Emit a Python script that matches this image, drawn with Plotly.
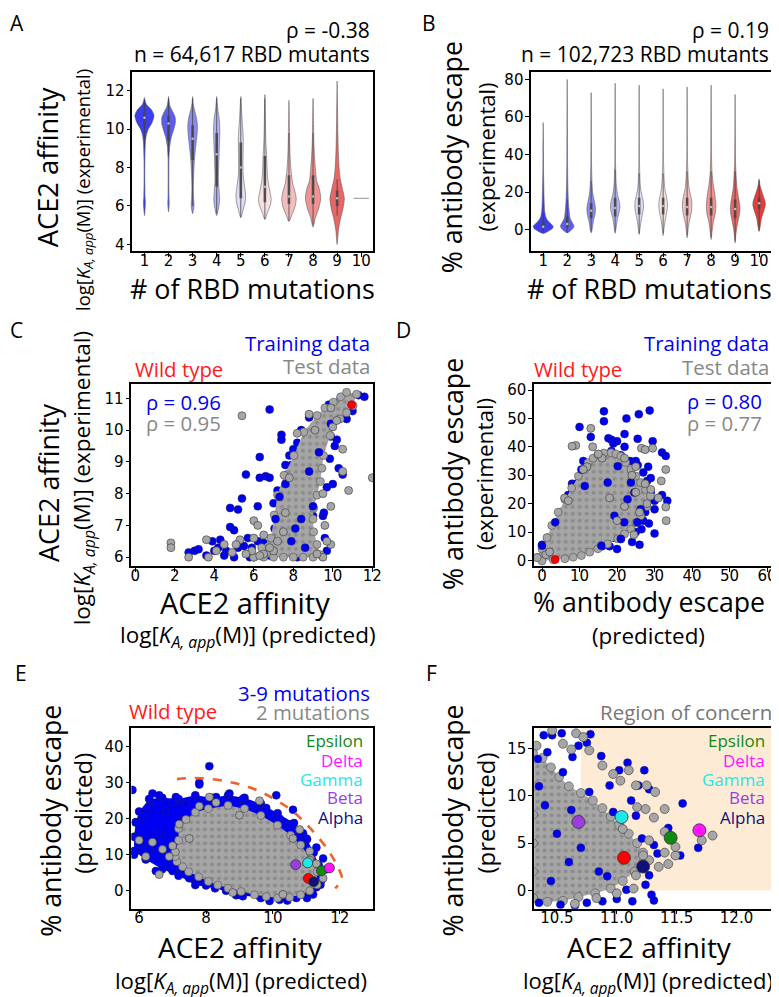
import plotly.graph_objects as go

W, H = 779, 997

# ---------------- data ----------------
mut_counts = [1, 2, 3, 4, 5, 6, 7, 8, 9, 10]
violin_colors = ["#3d3df0", "#5c5cee", "#8a8aef", "#b3b3f1", "#dcdcf6",
                 "#f6e1e1", "#f4bdbd", "#f09292", "#ea6666", "#e53d3d"]

# Panel A: ACE2 affinity violin profiles (level, half-width)
A_prof_y = [
    [5.5, 5.9, 6.2, 6.5, 7.5, 8.5, 9.3, 9.7, 10.0, 10.35, 10.7, 11.0, 11.3, 11.65],
    [5.7, 6.0, 6.2, 6.5, 7.5, 8.5, 9.1, 9.6, 10.0, 10.3, 10.6, 10.9, 11.2, 11.7],
    [5.6, 5.9, 6.1, 6.4, 7.0, 7.8, 8.5, 9.2, 9.8, 10.2, 10.6, 11.0, 11.3, 11.7],
    [5.5, 5.9, 6.3, 6.8, 7.3, 8.0, 8.7, 9.4, 10.0, 10.5, 11.0, 11.4, 11.7],
    [5.4, 5.8, 6.2, 6.6, 7.0, 7.6, 8.3, 9.0, 9.6, 10.2, 10.8, 11.3, 11.7],
    [5.3, 5.7, 6.1, 6.4, 6.8, 7.4, 8.0, 8.7, 9.4, 10.2, 11.0, 11.8],
    [5.2, 5.6, 6.0, 6.4, 6.8, 7.2, 7.8, 8.5, 9.3, 10.2, 11.0, 11.5],
    [4.9, 5.4, 5.9, 6.4, 6.9, 7.3, 7.9, 8.6, 9.4, 10.3, 11.0, 11.6],
    [4.0, 4.8, 5.4, 5.9, 6.4, 6.9, 7.4, 8.0, 8.8, 9.8, 10.8, 11.6, 12.5],
]
A_prof_w = [
    [0, 0.03, 0.04, 0.025, 0.015, 0.02, 0.04, 0.08, 0.16, 0.32, 0.40, 0.30, 0.08, 0],
    [0, 0.025, 0.03, 0.02, 0.015, 0.02, 0.05, 0.12, 0.22, 0.28, 0.28, 0.18, 0.06, 0],
    [0, 0.05, 0.06, 0.04, 0.03, 0.05, 0.08, 0.14, 0.19, 0.20, 0.16, 0.08, 0.03, 0],
    [0, 0.08, 0.12, 0.10, 0.07, 0.08, 0.10, 0.12, 0.13, 0.11, 0.05, 0.02, 0],
    [0, 0.10, 0.18, 0.20, 0.16, 0.10, 0.09, 0.10, 0.10, 0.07, 0.04, 0.02, 0],
    [0, 0.12, 0.24, 0.26, 0.20, 0.12, 0.09, 0.07, 0.04, 0.025, 0.015, 0],
    [0, 0.14, 0.26, 0.30, 0.24, 0.15, 0.09, 0.05, 0.03, 0.02, 0.01, 0],
    [0, 0.10, 0.24, 0.32, 0.26, 0.15, 0.10, 0.06, 0.03, 0.02, 0.01, 0],
    [0, 0.06, 0.15, 0.25, 0.30, 0.22, 0.13, 0.08, 0.05, 0.03, 0.02, 0.01, 0],
]
A_q1 = [10.1, 9.4, 8.4, 7.0, 6.4, 6.2, 6.1, 6.1, 6.0]
A_med = [10.6, 10.3, 9.5, 8.7, 8.0, 7.0, 6.5, 6.5, 6.4]
A_q3 = [10.9, 10.7, 10.2, 9.8, 9.3, 8.6, 7.6, 7.6, 6.8]
A_wlo = [9.0, 8.6, 6.0, 5.6, 5.4, 5.3, 5.2, 5.0, 5.5]
A_whi = [11.5, 11.6, 11.6, 11.6, 11.6, 11.6, 9.8, 9.8, 7.4]
A_single_10 = 6.4

# Panel B: antibody escape violin profiles
B_prof_y = [
    [-2.1, -1, 0.5, 1.7, 3, 5, 7, 10, 15, 20, 30, 40, 57],
    [-1.8, -0.5, 1, 2, 3.5, 6, 10, 15, 22, 35, 55, 80],
    [-1.8, 0, 2, 5, 8, 11, 14, 17, 20, 25, 35, 50, 73],
    [-2, 0, 3, 6, 9, 12, 15, 18, 21, 25, 35, 50, 78],
    [-2.6, 0, 3, 6, 9, 12, 15, 18, 21, 25, 35, 50, 77],
    [-3.2, 0, 3, 6, 9, 13, 16, 19, 22, 27, 37, 50, 75],
    [-4.4, -1, 3, 6, 9, 13, 16, 19, 22, 27, 37, 50, 76],
    [-5.3, -1, 3, 6, 9, 13, 16, 20, 24, 30, 40, 55, 77],
    [-7.1, -3, 1, 5, 8, 11, 14, 18, 22, 27, 35, 50, 72],
    [-1, 2, 6, 10, 13, 15, 17, 20, 23, 27],
]
B_prof_w = [
    [0, 0.2, 0.38, 0.42, 0.33, 0.18, 0.1, 0.06, 0.04, 0.03, 0.015, 0.01, 0],
    [0, 0.15, 0.26, 0.28, 0.22, 0.12, 0.08, 0.05, 0.03, 0.015, 0.008, 0],
    [0, 0.04, 0.06, 0.10, 0.16, 0.18, 0.15, 0.10, 0.06, 0.035, 0.015, 0.008, 0],
    [0, 0.03, 0.06, 0.10, 0.16, 0.20, 0.17, 0.11, 0.07, 0.04, 0.015, 0.008, 0],
    [0, 0.03, 0.06, 0.10, 0.15, 0.18, 0.17, 0.12, 0.07, 0.04, 0.015, 0.008, 0],
    [0, 0.03, 0.06, 0.10, 0.15, 0.18, 0.16, 0.11, 0.07, 0.04, 0.015, 0.008, 0],
    [0, 0.03, 0.07, 0.12, 0.17, 0.20, 0.18, 0.13, 0.08, 0.045, 0.015, 0.008, 0],
    [0, 0.04, 0.08, 0.13, 0.18, 0.20, 0.18, 0.14, 0.09, 0.04, 0.015, 0.008, 0],
    [0, 0.03, 0.07, 0.13, 0.18, 0.20, 0.18, 0.13, 0.08, 0.05, 0.02, 0.008, 0],
    [0, 0.05, 0.10, 0.20, 0.26, 0.25, 0.20, 0.12, 0.05, 0],
]
B_q1 = [0.5, 1, 6, 7, 8, 8, 7.5, 7.5, 6, 11]
B_med = [1.5, 3, 10, 11.5, 12.5, 12.5, 12, 12, 11, 14]
B_q3 = [4, 7, 14, 17, 17, 17, 17, 17, 16, 17]
B_wlo = [-1.5, -1.5, -1, -1, -2, -2, -3, -4, -6, -0.5]
B_whi = [9, 16, 26, 32, 30, 30, 31, 31, 31, 26]

# Panel C: ACE2 affinity predicted (x) vs experimental (y)
C_blue_x = [6.8, 7.4, 7.4, 6.3, 5.6, 6.3, 6.6, 6.8, 5.4, 4.8, 5.2, 6.2, 4.8, 5.0, 5.7, 4.3, 3.9, 3.0,
            2.7, 3.2, 4.2, 4.6, 5.2, 5.5, 5.9, 6.2, 6.5, 7.0, 4.5, 5.0, 6.0, 6.8, 7.0, 7.2, 7.6, 7.8,
            8.2, 9.9, 9.4, 10.2, 10.5, 10.0, 10.3, 9.5, 9.0, 9.6, 11.6, 11.3, 8.4, 8.8, 9.8, 10.4,
            9.0, 7.9, 8.0, 10.6, 9.7, 8.9, 8.2, 7.5, 7.2, 5.8, 6.6, 4.0, 3.6, 9.85, 10.1, 10.7,
            11.0, 9.7, 9.55, 7.05, 7.3, 7.7]
C_blue_y = [10.65, 9.85, 9.7, 9.15, 8.6, 8.5, 8.55, 8.5, 7.85, 7.55, 7.5, 7.6, 6.95, 6.85, 6.6, 6.55,
            6.5, 6.2, 6.15, 6.25, 6.3, 6.2, 6.3, 6.35, 6.3, 6.5, 6.45, 6.6, 6.05, 6.0, 6.0, 6.05, 7.7,
            8.1, 8.9, 9.2, 9.6, 9.8, 10.0, 9.7, 8.6, 8.3, 8.8, 7.3, 7.3, 6.6, 11.05, 11.1, 10.0, 10.4,
            10.8, 11.0, 9.5, 8.9, 9.4, 10.5, 6.2, 6.6, 6.0, 6.1, 7.0, 6.0, 6.25, 6.2, 6.05, 9.1, 9.5,
            10.35, 10.6, 8.2, 7.4, 6.9, 7.3, 8.6]
C_blue_in_x = [7.3, 7.1, 8.4, 9.0, 8.8, 9.3, 9.9, 7.9, 8.6, 7.6, 8.1]
C_blue_in_y = [7.9, 7.2, 7.2, 7.6, 8.7, 9.3, 10.2, 6.5, 6.3, 8.3, 6.9]
C_gray_x = [1.8, 1.8, 2.7, 3.6, 3.7, 4.5, 5.3, 5.4, 6.0, 6.0, 6.2, 6.5, 5.9, 6.5, 7.0, 8.8, 9.1, 9.9,
            10.0, 10.5, 10.5, 10.8, 12.0, 9.9, 9.5, 9.2, 10.2, 8.2, 7.8, 7.6, 7.5, 7.2, 4.9, 5.6, 6.8,
            6.3, 5.1, 4.1, 9.7, 9.6, 9.9, 9.5]
C_gray_y = [6.45, 6.3, 6.0, 6.55, 6.0, 6.4, 6.55, 10.45, 6.6, 7.15, 7.0, 6.7, 6.2, 6.1, 6.2, 10.5,
            10.0, 10.7, 10.1, 9.4, 8.7, 8.1, 8.5, 6.4, 6.0, 6.1, 10.3, 9.9, 8.5, 7.4, 6.8, 6.5, 6.15,
            6.1, 6.3, 6.05, 6.4, 6.2, 6.5, 7.0, 7.6, 8.0]
C_core_x = [6.0, 6.4, 6.87, 7.03, 7.2, 7.53, 8.03, 8.53, 9.2, 9.6, 10.03, 10.4, 10.7, 11.2, 11.03,
            10.7, 10.37, 9.87, 9.53, 9.45, 9.37, 9.2, 9.03, 9.0, 9.03, 9.2, 9.37, 9.0, 8.5, 8.0, 7.5,
            7.0, 6.5]
C_core_y = [6.0, 6.3, 6.6, 7.33, 7.96, 8.58, 9.2, 9.94, 10.46, 10.7, 10.88, 11.05, 11.19, 11.13,
            10.77, 10.55, 10.35, 9.83, 9.2, 8.8, 8.38, 7.95, 7.54, 7.2, 6.8, 6.4, 6.08, 6.0, 6.0,
            6.0, 6.0, 6.0, 6.0]
C_wt = (10.95, 10.8)

# Panel D: antibody escape predicted (x) vs experimental (y)
D_blue_x = [16.5, 16.5, 10, 22.5, 25.8, 28.7, 13, 17.7, 18.5, 20, 19, 22, 25.5, 29.5, 32, 33, 22, 11,
            18, 17.8, 10, 15, 20, 25, 28.3, 29, 30, 32, 33.4, 30, 27, 30, 26, 23, 21, 16, 0, 1, 0.5,
            8, 12, 24, 26.5, 22, 28, 20, 24, 25, 14, 19, 27.5, 28.5, 29, 27, 25.5, 23.5, 21, 18.5,
            13.5, 9, 7, 5, 3, 1.5, -0.8, 18, 21, 23.5, 25.5, 26.5, 28.5, 24, 20]
D_blue_y = [52.5, 49, 47, 50, 51.5, 52.8, 43.5, 43, 42.5, 42, 41.2, 44.5, 42.8, 42, 38, 36.8, 40, 35,
            37.5, 34, 27, 33, 33, 35, 33, 24, 21, 23, 21, 18, 14, 9.5, 5.5, 22, 12, 5, 5.5, 5, 3, 27,
            30.5, 30, 26, 28, 28, 17, 16, 10, 7, 8, 17, 24, 29, 31, 33.5, 35, 37, 38.5, 35, 27, 23,
            17, 12, 8, 1, 5, 7.5, 12, 14.5, 11, 13, 6.5, 4]
D_blue_in_x = [20.2, 23.7, 24.6, 21.9, 26.3, 21, 15.8, 11.4, 10.5, 3.5, 0, 17.5, 22.8, 25.4, 19.3]
D_blue_in_y = [33.2, 27.4, 23.9, 13.4, 18, 7.6, 5.2, 26.2, 32, 13.4, 5.2, 27.4, 21.5, 13.4, 15.7]
D_gray_x = [13, 9, 8, 13.5, 16, 15, 22, 26.5, 27.5, 29.5, 33, 31.8, 33, 33.1, 31, 29, 27.5, 12, 11, 6,
            7, 25, 24, 28, 26, 24.5, 20, 18, 1, 2, 22, 25]
D_gray_y = [46.5, 40.5, 40.2, 40, 36, 37.5, 36, 39.5, 39, 39.5, 32, 28, 18.8, 14, 22, 25, 27, 33, 32,
            22, 21, 33, 30, 20, 17, 9, 14, 22, 2, 3, 19, 24]
D_core_x = [-1.3, 0, 1.3, 2.6, 4.3, 6.1, 7.9, 9.7, 11, 12.3, 13.6, 14.9, 16.5, 18.4, 19.7, 21, 22.3,
            23.7, 25, 26.3, 27.6, 28.9, 28, 26.3, 25, 23.7, 22, 20.2, 17.5, 14.9, 12.7, 10.5, 8.3, 6.1,
            3, 0]
D_core_y = [1, 4, 8, 12.3, 17, 21.5, 25.5, 29.7, 32, 34.4, 36, 37.3, 37.8, 37.9, 37.5, 36.7, 34.5,
            32, 29.7, 27.4, 25, 22.7, 19, 15.7, 13.3, 11, 9.3, 7.6, 5.8, 4.1, 2.9, 1.7, 1.1, 0.6, 0.2,
            -0.2]
D_wt = (3.5, 0.3)

# Panel E: predicted ACE2 affinity (x) vs predicted antibody escape (y)
E_blue_x = [8.1, 5.8, 6.4, 6.6, 7.1, 7.8, 9.1, 10.1, 10.6, 10.5, 10.9, 11.3, 11.5, 11.6, 11.3, 10.7,
            10.2, 9.6, 9.1, 8.6, 8.0, 7.5, 7.0, 6.5, 6.2, 6.3, 6.0, 6.1, 5.9, 6.6, 7.3, 7.8, 8.7, 9.6,
            9.3, 10.2, 8.6, 7.4, 6.8, 5.85, 5.9, 6.3, 7.0, 8.3, 9.8, 11.0, 11.45, 9.9, 8.9]
E_blue_y = [34.6, 28, 27, 26.5, 26, 30, 25.5, 26.5, 22.5, 18.5, 16, 12, 9, 6, 1, -2, -2.5, -1.5,
            -1.5, 0, 1.5, 3.5, 5.5, 5.5, 9, 11.5, 13, 20.5, 19, 16, 19.5, 29.5, 27, 24, 22, 20, 23,
            24, 22, 10, 15, 23, 24.5, 26, 23, 14.5, 3, -2.8, -1.2]
E_gray_x = [6.0, 6.2, 6.4, 6.6, 7.0, 7.5, 8.1, 9.6, 10.8, 11.1, 11.3, 11.5, 11.1, 10.6, 9.0, 7.2,
            8.8, 10.3, 8.3, 7.8, 6.9, 6.7]
E_gray_y = [14, 9.5, 13.5, 4.5, 12.5, 14.5, 26, 25, 17, 8.5, 7.5, 3.5, 11, 14.5, 21, 18.5, -0.5, -1,
            24.5, 23.5, 9.5, 11.5]
E_core_x = [7.08, 7.18, 7.18, 7.4, 7.68, 8.07, 8.66, 9.15, 9.64, 10.14, 10.53, 10.83, 11.12, 11.32,
            11.32, 11.1, 10.83, 10.5, 10.14, 9.8, 9.45, 9.05, 8.66, 8.35, 8.07, 7.78, 7.48, 7.3, 7.13,
            7.08]
E_core_y = [10.8, 14, 17.3, 19.8, 21.8, 22.8, 23.7, 22.8, 20.9, 18.2, 15.4, 12.7, 9.0, 5.3, 1.7, 0,
            -1.1, -1.8, -2.0, -1.6, -1.1, -0.2, 0.7, 1.6, 2.6, 3.9, 5.3, 6.7, 8.1, 9.5]
E_rim_x = [5.85, 5.85, 5.9, 6.0, 6.3, 6.69, 7.18, 7.68, 8.17, 8.66, 9.15, 9.64, 10.14, 10.63, 11.02,
           11.22, 11.37, 11.42, 11.42, 11.2, 11.02, 10.43, 9.64, 8.96, 8.27, 7.68, 7.18, 6.69, 6.2]
E_rim_y = [11, 15, 19, 22, 25.5, 25.8, 25.5, 26.5, 25.8, 26.5, 25.8, 24.2, 21.5, 18.8, 14.3, 10.6,
           7.0, 4.0, 1.7, -1.0, -2.0, -2.7, -2.0, -1.1, 0.7, 1.6, 4.2, 6.0, 8.7]
E_boundary_x = [7.13, 7.6, 8.17, 8.7, 9.15, 9.6, 9.94, 10.3, 10.63, 11.12, 11.62, 11.91, 12.06, 11.86]
E_boundary_y = [31.0, 31.3, 31.0, 30.2, 29.2, 27.6, 26.0, 24.0, 21.8, 17.3, 11.7, 7.1, 3.4, 0.7]

# Panel F: zoom on the region of concern
F_blue_x = [10.39, 10.46, 10.54, 10.68, 10.78, 10.87, 11.09, 11.23, 11.27, 11.55, 11.02, 10.94, 11.43,
            11.53, 11.68, 11.29, 11.31, 11.13, 11.08, 11.0, 10.88, 10.75, 10.65, 10.53, 10.35, 11.27,
            11.34, 11.31, 11.21, 11.12, 11.18, 10.75, 10.63, 10.42, 10.34, 10.55, 10.77, 10.97,
            11.16, 11.24, 10.4, 10.5, 10.6, 10.45, 10.7, 10.35, 10.85, 10.62, 10.92]
F_blue_y = [16.4, 16.4, 16.6, 15.3, 16.5, 14.2, 13.5, 12.7, 10.7, 9.2, 12.7, 11.1, 6.6, 3.7, 4.5,
            -0.45, -1.05, -1.15, 0.07, -0.9, -1.15, -1.3, -1.6, -1.5, -1.3, 1.6, 3.9, 4.8, 5.5, 9.5,
            11.1, 15.6, 14.1, 14.6, 13.9, 12.5, 10.4, 8.3, 7.9, 0.6, 9.0, 6.0, 3.0, 1.0, 4.5, 11.0,
            2.0, 8.5, 1.5]
F_gray_x = [10.46, 10.66, 10.72, 10.62, 10.77, 10.88, 10.97, 11.03, 11.10, 11.16, 11.25, 11.32, 11.17,
            11.24, 11.31, 11.40, 11.40, 11.40, 11.43, 11.49, 11.49, 11.71, 11.80, 11.35, 11.27, 11.16,
            11.14, 11.0, 10.83, 10.65, 10.33, 10.55, 11.22, 11.05, 11.27]
F_gray_y = [16.9, 16.6, 16.2, 14.9, 14.8, 13.2, 12.3, 11.6, 12.7, 11.1, 11.1, 10.4, 8.8, 8.6, 7.7,
            8.6, 6.2, 4.0, 2.8, 3.7, 4.6, 5.3, 5.8, 2.5, 3.2, 1.6, 0.2, -0.3, -0.8, -1.4, 15.3, 15.5,
            3.7, 6.5, 5.3]
F_core_x = [10.3, 10.3, 10.3, 10.3, 10.3, 10.3, 10.38, 10.45, 10.52, 10.6, 10.7, 10.8, 10.88, 10.95,
            11.02, 11.1, 11.17, 11.22, 11.22, 11.15, 11.05, 10.95, 10.82, 10.68, 10.55, 10.42]
F_core_y = [-0.8, 2, 5, 8, 11, 14.5, 14, 13, 12, 11, 10.3, 9.5, 8.7, 7.8, 6.9, 6.0, 5.0, 4.0, 3.0,
            2.0, 1.0, 0.2, -0.3, -0.7, -1.1, -1.2]
region_aff_min, region_esc_min = 10.70, 0.0

variant_names = ["Epsilon", "Delta", "Gamma", "Beta", "Alpha"]
variant_colors = ["#108a10", "#ff14ff", "#1ee8e8", "#9a3ee0", "#10107c"]
variant_aff = [11.45, 11.69, 11.04, 10.68, 11.22]
variant_esc = [5.56, 6.36, 7.76, 7.24, 2.52]
wt_aff, wt_esc = 11.06, 3.45

# ---------------- layout helpers ----------------
TF = "Open Sans, Noto Sans, sans-serif"
TICKF = "DejaVu Sans, sans-serif"
BLUE = "#0000f0"
GRAY = "#a6a6a6"
GRAYTXT = "#888888"

boxes = {  # pixel boxes: left, right, top, bottom
    1: (125, 369, 61, 242),
    2: (529, 772, 61, 242),
    3: (124, 369, 376, 559),
    4: (532, 777, 376, 559),
    5: (124, 369, 722, 904),
    6: (532, 777, 722, 904),
}

fig = go.Figure()


def ax(i):
    return ("x" if i == 1 else f"x{i}"), ("y" if i == 1 else f"y{i}")


def add(i, **kw):
    xa, ya = ax(i)
    fig.add_trace(go.Scatter(xaxis=xa, yaxis=ya, showlegend=False, hoverinfo="skip", **kw))


def violin(i, xc, ys, ws, color):
    xs = [xc + w for w in ws] + [xc - w for w in reversed(ws)]
    yy = list(ys) + list(reversed(ys))
    add(i, x=xs, y=yy, mode="lines", fill="toself", fillcolor=color,
        line=dict(color="rgba(90,90,90,0.7)", width=0.8, shape="spline", smoothing=0.6))


def boxinner(i, xc, q1, med, q3, lo, hi):
    add(i, x=[xc, xc], y=[lo, hi], mode="lines", line=dict(color="rgba(60,60,60,0.85)", width=0.9))
    add(i, x=[xc, xc], y=[q1, q3], mode="lines", line=dict(color="rgba(70,70,70,0.9)", width=2.6))
    add(i, x=[xc], y=[med], mode="markers", marker=dict(color="#bbbbbb", size=2.5))


# Panel A violins
for k in range(9):
    violin(1, mut_counts[k], A_prof_y[k], A_prof_w[k], violin_colors[k])
    boxinner(1, mut_counts[k], A_q1[k], A_med[k], A_q3[k], A_wlo[k], A_whi[k])
add(1, x=[mut_counts[9] - 0.32, mut_counts[9] + 0.32], y=[A_single_10, A_single_10], mode="lines",
    line=dict(color="#aaaaaa", width=1.2))

# Panel B violins
for k in range(10):
    violin(2, mut_counts[k], B_prof_y[k], B_prof_w[k], violin_colors[k])
    boxinner(2, mut_counts[k], B_q1[k], B_med[k], B_q3[k], B_wlo[k], B_whi[k])


def cloud(i, xs, ys, color, size, textured):
    # dense cloud: filled outline, with the outline's own points drawn as markers
    kw = dict(fill="toself", fillcolor=color)
    if textured:
        kw["fillpattern"] = dict(shape=".", bgcolor=color, fgcolor="#727272", size=7, solidity=0.28)
    lc = "#505050" if textured else "#202060"
    add(i, x=list(xs) + [xs[0]], y=list(ys) + [ys[0]], mode="lines+markers",
        line=dict(color="rgba(0,0,0,0)", width=0),
        marker=dict(color=color, size=size, line=dict(color=lc, width=0.6)), **kw)


def pts(i, xs, ys, color, size, lw=0.6, lc="#333333"):
    add(i, x=xs, y=ys, mode="markers",
        marker=dict(color=color, size=size, line=dict(color=lc, width=lw)))


# Panel C
pts(3, C_blue_x, C_blue_y, BLUE, 8, 0.5, "#202060")
cloud(3, C_core_x, C_core_y, GRAY, 8, True)
pts(3, C_blue_in_x, C_blue_in_y, BLUE, 8, 0.5, "#202060")
pts(3, C_gray_x, C_gray_y, GRAY, 8)
pts(3, [C_wt[0]], [C_wt[1]], "#ff0000", 8, 0.5, "#800000")

# Panel D
pts(4, D_blue_x, D_blue_y, BLUE, 8, 0.5, "#202060")
cloud(4, D_core_x, D_core_y, GRAY, 8, True)
pts(4, D_blue_in_x, D_blue_in_y, BLUE, 8, 0.5, "#202060")
pts(4, D_gray_x, D_gray_y, GRAY, 8)
pts(4, [D_wt[0]], [D_wt[1]], "#ff0000", 8, 0.5, "#800000")

# Panel E
cloud(5, E_rim_x, E_rim_y, BLUE, 8, False)
pts(5, E_blue_x, E_blue_y, BLUE, 8, 0.5, "#202060")
cloud(5, E_core_x, E_core_y, GRAY, 8, True)
pts(5, E_gray_x, E_gray_y, GRAY, 8)
add(5, x=E_boundary_x, y=E_boundary_y, mode="lines",
    line=dict(color="#f4602c", width=2.6, dash="dash", shape="spline"))
pts(5, [wt_aff], [wt_esc], "#ff0000", 10, 0.8)
pts(5, variant_aff, variant_esc, variant_colors, 10, 0.8)

# Panel F
cloud(6, F_core_x, F_core_y, GRAY, 9, True)
pts(6, F_blue_x, F_blue_y, BLUE, 8, 0.5, "#202060")
pts(6, F_gray_x, F_gray_y, GRAY, 9)
pts(6, [wt_aff], [wt_esc], "#ff0000", 13, 0.8)
pts(6, variant_aff, variant_esc, variant_colors, 13, 0.8)

fig.add_shape(type="rect", xref="x6", yref="y6", x0=region_aff_min, x1=13, y0=region_esc_min, y1=30,
              fillcolor="#fdebd5", line=dict(width=0), layer="below")

# axes
ranges = {
    1: ([0.5, 10.5], [3.64, 13.0]),
    2: ([0.5, 10.5], [-11.6, 84.2]),
    3: ([-0.2, 12.05], [5.72, 11.44]),
    4: ([-2.1, 62.4], [-2.0, 62.0]),
    5: ([5.77, 13.0], [-4.95, 45.2]),
    6: ([10.31, 12.33], [-1.92, 17.17]),
}
ticks = {
    1: (mut_counts, [4, 6, 8, 10, 12]),
    2: (mut_counts, [0, 20, 40, 60, 80]),
    3: ([0, 2, 4, 6, 8, 10, 12], [6, 7, 8, 9, 10, 11]),
    4: ([0, 10, 20, 30, 40, 50, 60], [0, 10, 20, 30, 40, 50, 60]),
    5: ([6, 8, 10, 12], [0, 10, 20, 30, 40]),
    6: ([10.5, 11.0, 11.5, 12.0], [0, 5, 10, 15]),
}
axcommon = dict(showline=True, linecolor="black", linewidth=1.5, mirror=True, ticks="outside",
                ticklen=4, tickwidth=1, tickcolor="black", showgrid=False, zeroline=False,
                tickfont=dict(family=TICKF, size=15, color="black"))
for i, (l, r, t, b) in boxes.items():
    xa, ya = ax(i)
    xkey = "xaxis" if i == 1 else f"xaxis{i}"
    ykey = "yaxis" if i == 1 else f"yaxis{i}"
    xt = [str(v) if i != 6 else f"{v:.1f}" for v in ticks[i][0]]
    fig.update_layout(**{
        xkey: dict(domain=[l / W, r / W], anchor=ya, range=ranges[i][0], tickvals=ticks[i][0],
                   ticktext=xt, ticklabelstandoff=-9, **axcommon),
        ykey: dict(domain=[1 - b / H, 1 - t / H], anchor=xa, range=ranges[i][1],
                   tickvals=ticks[i][1], ticklabelstandoff=-1, **axcommon),
    })

anns = []


def txt(s, x, y, size, color="black", xanchor="center", angle=0):
    # (x, y): centre of the glyphs in pixels; shift the line box by its ascent/descent offset
    off = 0.15 * size
    if angle == 0:
        y = y - off
    else:
        x = x - off
    anns.append(dict(text=s, x=x / W, y=1 - y / H, xref="paper", yref="paper", showarrow=False,
                     xanchor=xanchor, yanchor="middle", textangle=angle,
                     font=dict(family=TF, size=size, color=color)))


KA = "log[<i>K</i><sub><i>A, app</i></sub>(M)]"

# panel letters
for s, x, y in [("A", 8, 15), ("B", 425, 15), ("C", 8, 324), ("D", 400, 324), ("E", 12, 670),
                ("F", 428, 670)]:
    txt(s, x, y, 21)

# A
txt("ρ = -0.38", 368, 22, 21, xanchor="right")
txt("n = 64,617 RBD mutants", 368, 46, 21, xanchor="right")
txt("# of RBD mutations", 247, 283, 26.9)
txt("ACE2 affinity", 44, 157, 27.3, angle=-90)
txt(KA + " (experimental)", 78, 180, 18.5, angle=-90)
# B
txt("ρ = 0.19", 772, 22, 21, xanchor="right")
txt("n = 102,723 RBD mutants", 772, 46, 21, xanchor="right")
txt("# of RBD mutations", 649, 283, 26.9)
txt("% antibody escape", 453, 147, 26.7, angle=-90)
txt("(experimental)", 486, 147, 22, angle=-90)
# C
txt("Training data", 368, 337, 20.4, BLUE, "right")
txt("Test data", 368, 361, 20.4, GRAYTXT, "right")
txt("Wild type", 172, 364, 20.4, "#ff1a1a")
txt("ρ = 0.96", 137, 397, 20.4, BLUE, "left")
txt("ρ = 0.95", 137, 418, 20.4, GRAYTXT, "left")
txt("ACE2 affinity", 239, 600, 29)
txt(KA + " (predicted)", 242, 633, 22.5)
txt("ACE2 affinity", 44, 475, 27, angle=-90)
txt(KA + " (experimental)", 78, 471, 22.5, angle=-90)
# D
txt("Training data", 772, 337, 20.4, BLUE, "right")
txt("Test data", 772, 362, 20.4, GRAYTXT, "right")
txt("Wild type", 576, 364, 20.4, "#ff1a1a")
txt("ρ = 0.80", 765, 396, 20.4, BLUE, "right")
txt("ρ = 0.77", 765, 418, 20.4, GRAYTXT, "right")
txt("% antibody escape", 453, 466, 26.7, angle=-90)
txt("(experimental)", 485, 466, 22.5, angle=-90)
txt("% antibody escape", 648, 599, 26.7)
txt("(predicted)", 648, 632, 22.4)
# E
txt("3-9 mutations", 368, 690, 20.4, BLUE, "right")
txt("2 mutations", 368, 709, 20.4, GRAYTXT, "right")
txt("Wild type", 166, 708, 20.4, "#ff1a1a")
for k, yy in enumerate([737, 757, 776, 795, 815]):
    txt(variant_names[k], 361, yy, 17, variant_colors[k], "right")
    txt(variant_names[k], 768, yy, 17, variant_colors[k], "right")
txt("% antibody escape", 46, 815, 26.7, angle=-90)
txt("(predicted)", 78, 808, 24, angle=-90)
txt("ACE2 affinity", 235, 947, 28)
txt(KA + " (predicted)", 235, 981, 22.2)
# F
txt("Region of concern", 775, 709, 20.5, "#777777", "right")
txt("% antibody escape", 453, 815, 26.7, angle=-90)
txt("(predicted)", 486, 808, 24, angle=-90)
txt("ACE2 affinity", 649, 947, 28)
txt(KA + " (predicted)", 647, 981, 22)

fig.update_layout(width=W, height=H, margin=dict(l=0, r=0, t=0, b=0), paper_bgcolor="white",
                  plot_bgcolor="white", annotations=anns, showlegend=False)
fig.write_html("out.html")
